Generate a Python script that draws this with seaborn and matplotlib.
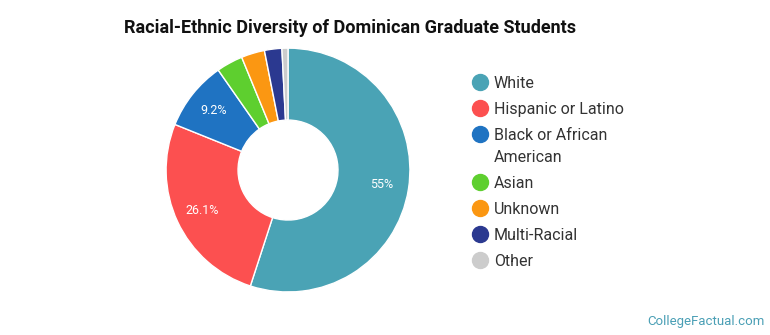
import matplotlib
matplotlib.use('Agg')
import matplotlib.pyplot as plt
import seaborn as sns
from matplotlib.lines import Line2D

# data
groups = ['White', 'Hispanic or Latino', 'Black or African\nAmerican', 'Asian',
          'Unknown', 'Multi-Racial', 'Other']
shares = [55.0, 26.1, 9.2, 3.5, 3.1, 2.3, 0.8]
colors = ['#4aa3b5', '#fc5050', '#1f73c2', '#5ecf2f', '#fb9712', '#2b3990', '#cccccc']

sns.set_theme(style='white')
plt.rcParams['font.family'] = ['Roboto', 'DejaVu Sans']

W, H = 770, 335
fig = plt.figure(figsize=(W / 100, H / 100), dpi=100)
ax = fig.add_axes([0.2117, 0.1194, 0.3247, 0.746])

def fmt(p):
    return f'{p:.1f}%'.replace('.0%', '%') if p > 5 else ''

wedges, _, autotexts = ax.pie(
    shares, colors=sns.color_palette(colors), startangle=90, counterclock=False,
    autopct=fmt, pctdistance=0.78,
    wedgeprops=dict(width=0.59, edgecolor='white', linewidth=1),
    textprops=dict(color='white', fontsize=9))
ax.set_xlim(-1.025, 1.025)
ax.set_ylim(-1.025, 1.025)
ax.set_aspect('equal')
ax.axis('off')

# legend drawn by hand so the marker sits on the first line of wrapped labels
y = 82
for name, c in zip(groups, colors):
    fig.add_artist(Line2D([480 / W], [1 - y / H], marker='o', linestyle='',
                          markersize=11.5, markerfacecolor=c, markeredgecolor=c,
                          transform=fig.transFigure))
    for i, line in enumerate(name.split('\n')):
        fig.text(494 / W, 1 - (y + 22 * i) / H, line, fontsize=11.5,
                 color='#333333', va='center_baseline')
    y += 26 + 22 * name.count('\n')

fig.text(0.161, 0.915, 'Racial-Ethnic Diversity of Dominican Graduate Students',
         fontsize=13, fontweight='bold', color='#111111', va='center')
fig.text(0.993, 0.04, 'CollegeFactual.com', fontsize=9.5, color='#4a9fb5',
         ha='right', va='center')

fig.savefig('out.png', dpi=100)
